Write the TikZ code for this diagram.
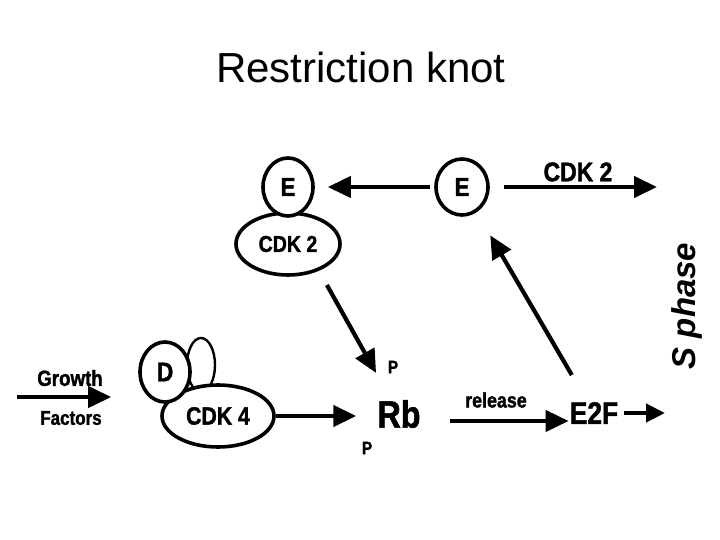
\documentclass[tikz,border=0pt]{standalone}
\usepackage{fontspec}
\setmainfont{Liberation Sans}
\newfontfamily\narrowbf[FakeStretch=0.85, FakeBold=1.5]{Liberation Sans Bold}
\usetikzlibrary{shapes.geometric,arrows.meta}

\begin{document}
\begin{tikzpicture}[
  x=1pt, y=-1pt,
  mol/.style={ellipse, draw=black, line width=3.6pt, fill=white, inner sep=0pt,
              font=\narrowbf\fontsize{26}{28}\selectfont},
  cplx/.style={ellipse, draw=black, line width=3.6pt, fill=white, inner sep=0pt,
               font=\narrowbf\fontsize{24}{26}\selectfont},
  lbl/.style={inner sep=1pt, font=\narrowbf\fontsize{22}{24}\selectfont},
  arr/.style={line width=4.2pt, -{Triangle[length=23pt,width=21pt]}},
  arrs/.style={line width=4.2pt, -{Triangle[length=19pt,width=18pt]}}
]
\useasboundingbox (0,0) rectangle (720,540);

% ---- title ----
\node[anchor=base, font=\fontsize{42}{46}\selectfont] (ttl) at (361,83) {Restriction knot};

% ---- cyclin E / CDK 2 ----
\node[cplx, minimum width=104pt, minimum height=62pt, font=\narrowbf\fontsize{23}{25}\selectfont]
  (cdkb) at (288,244) {CDK 2};
\node[mol, minimum width=50pt, minimum height=58pt] (ea) at (288,187) {E};
\node[mol, minimum width=52pt, minimum height=56pt] (eb) at (462,187) {E};
\node[lbl, font=\narrowbf\fontsize{27}{29}\selectfont] (ck) at (578,172) {CDK 2};
\coordinate (sph) at (657,187);

% ---- cyclin D / CDK 4 ----
\node[ellipse, draw=black, line width=2.4pt, fill=white, minimum width=28pt,
      minimum height=54pt] (dx) at (201,365) {};
\node[cplx, minimum width=112pt, minimum height=62pt, font=\narrowbf\fontsize{25}{27}\selectfont]
  (cdkd) at (218,416) {CDK 4};
\node[mol, minimum width=50pt, minimum height=60pt, font=\narrowbf\fontsize{27}{29}\selectfont]
  (dd) at (165,372) {D};

\node[lbl] (gro) at (70,378) {Growth};
\node[lbl, font=\narrowbf\fontsize{20}{22}\selectfont] (fac) at (71,418) {Factors};
\coordinate (gfin) at (17,397);

% ---- Rb, E2F ----
\node[lbl, font=\narrowbf\fontsize{38}{40}\selectfont] (rb) at (399,414) {Rb};
\node[lbl, font=\narrowbf\fontsize{18}{20}\selectfont] (pu) at (393,367) {P};
\node[lbl, font=\narrowbf\fontsize{18}{20}\selectfont] (pd) at (367,448) {P};
\node[lbl, font=\narrowbf\fontsize{21}{23}\selectfont] (rel) at (496,400) {release};
\node[lbl, font=\narrowbf\fontsize{31}{33}\selectfont] (e2f) at (594,413) {E2F};
\coordinate (sout) at (665,408);

\node[lbl, rotate=90, font=\bfseries\itshape\fontsize{33}{35}\selectfont] (sph2) at (687,306) {S phase};

% ---- arrows ----
\draw[arr, shorten <=4pt, shorten >=13pt] (eb.west) -- (ea.east);
\draw[arr, shorten <=14pt] (eb.east) -- (sph);
\draw[arr, shorten <=47pt, shorten >=47pt] ([xshift=16pt]cdkb.center) -- (rb.center);
\draw[arr, shorten >=27pt] (gfin) -- (gfin -| dd.west);
\draw[arr, shorten >=20pt] (cdkd.east) -- (cdkd.east -| rb.west);
\draw[arr, shorten <=28pt] ([yshift=-7pt]rb.east) -- ([yshift=-7pt]rb.east -| e2f.west);
\draw[arrs, shorten <=5pt] (e2f.east) -- (e2f.east -| sout);
\draw[arr, shorten <=44pt, shorten >=56pt] (e2f.center) -- (eb.center);

\end{tikzpicture}
\end{document}
